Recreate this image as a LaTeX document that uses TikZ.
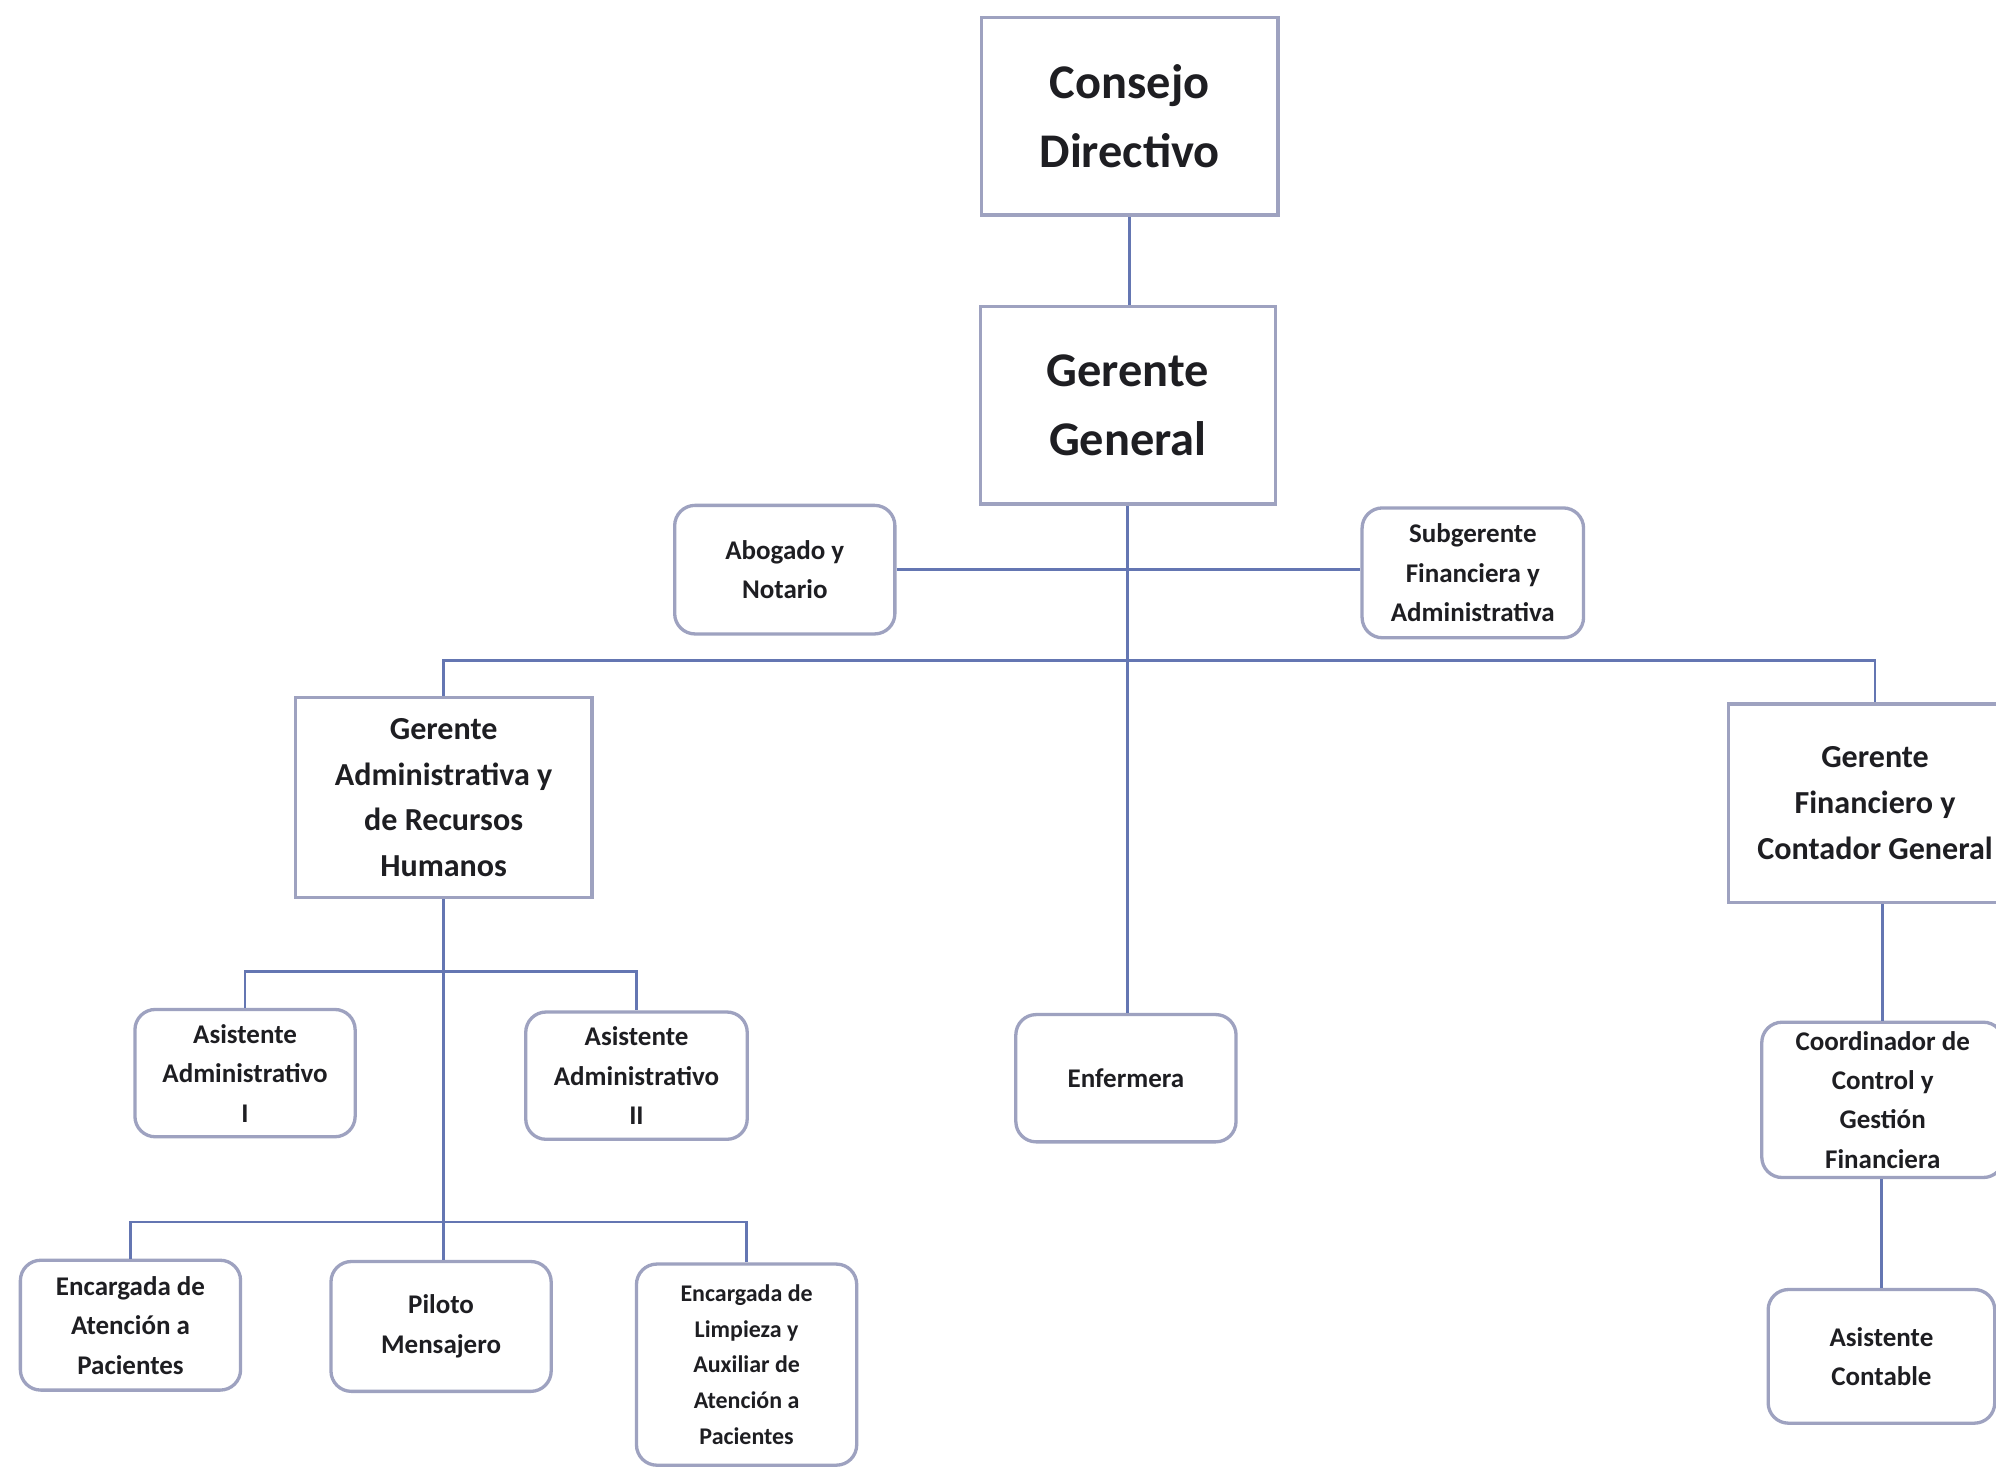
\documentclass[tikz,border=0pt]{standalone}
\usepackage{fontspec}
\setmainfont{Carlito}
\definecolor{boxline}{RGB}{158,162,192}
\definecolor{conn}{RGB}{100,118,178}
\definecolor{txt}{RGB}{30,30,34}
\tikzset{
  base/.style={draw=boxline, line width=1.3pt, fill=white, inner sep=0pt, align=center, text=txt},
  sqbox/.style={base},
  rbox/.style={base, rounded corners=8pt},
  fbig/.style={font=\fontsize{19}{27}\selectfont\bfseries},
  fmed/.style={font=\fontsize{12.6}{18}\selectfont\bfseries},
  fsmall/.style={font=\fontsize{10.6}{15.5}\selectfont\bfseries},
  ftiny/.style={font=\fontsize{9.4}{14}\selectfont\bfseries},
  link/.style={draw=conn, line width=1.1pt},
}
\begin{document}
\begin{tikzpicture}[x=0.5pt,y=-0.5pt]
\fill[white] (0,0) rectangle (1568,1152);
\useasboundingbox (0,0) rectangle (1568,1152);
\clip (0,0) rectangle (1568,1152);

\node[sqbox,fbig, minimum width=116.5pt, minimum height=77.5pt] (cd) at (887.5,91.5) {Consejo\\Directivo};
\node[sqbox,fbig, minimum width=116pt, minimum height=77.5pt] (gg) at (886,318.5) {Gerente\\General};
\node[rbox,fsmall, minimum width=86.5pt, minimum height=50.5pt] (abog) at (616.5,447.5) {Abogado y\\Notario};
\node[rbox,fsmall, minimum width=87pt, minimum height=51pt] (sub) at (1157,450) {Subgerente\\Financiera y\\Administrativa};
\node[sqbox,fmed, minimum width=116.5pt, minimum height=78.5pt] (ga) at (348.5,626.5) {Gerente\\Administrativa y\\de Recursos\\Humanos};
\node[sqbox,fmed, minimum width=115pt, minimum height=78pt] (gf) at (1473,631) {Gerente\\Financiero y\\Contador General};
\node[rbox,fsmall, minimum width=86.5pt, minimum height=50pt] (as1) at (192.5,843) {Asistente\\Administrativo\\I};
\node[rbox,fsmall, minimum width=87pt, minimum height=50pt] (as2) at (500,845) {Asistente\\Administrativo\\II};
\node[rbox,fsmall, minimum width=86.5pt, minimum height=50pt] (enf) at (884.5,847) {Enfermera};
\node[rbox,fsmall, minimum width=95pt, minimum height=61pt] (coord) at (1479,864) {Coordinador de\\Control y\\Gestión\\Financiera};
\node[rbox,fsmall, minimum width=89pt, minimum height=52.5pt] (ac) at (1478,1065.5) {Asistente\\Contable};
\node[rbox,fsmall, minimum width=86.5pt, minimum height=51pt] (ea) at (102.5,1041) {Encargada de\\Atención a\\Pacientes};
\node[rbox,fsmall, minimum width=86.5pt, minimum height=51pt] (pil) at (346.5,1042) {Piloto\\Mensajero};
\node[rbox,ftiny, minimum width=86.5pt, minimum height=79pt] (el) at (586.5,1072) {Encargada de\\Limpieza y\\Auxiliar de\\Atención a\\Pacientes};

\coordinate (jb) at (886,519);
\coordinate (j2) at (349,763);
\coordinate (j3) at (349,960);

\draw[link] (cd.south) -- (cd.south |- gg.north);
\draw[link] (gg.south) -- (gg.south |- enf.north);
\draw[link] (abog.east) -- (abog.east -| sub.west);
\draw[link] (ga.north) |- (jb) -| (gf.north);
\draw[link] (ga.south) -- (ga.south |- pil.north);
\draw[link] (as1.north) |- (j2) -| (as2.north);
\draw[link] (ea.north) |- (j3) -| (el.north);
\draw[link] (coord.north |- gf.south) -- (coord.north);
\draw[link] (ac.north |- coord.south) -- (ac.north);
\end{tikzpicture}
\end{document}
